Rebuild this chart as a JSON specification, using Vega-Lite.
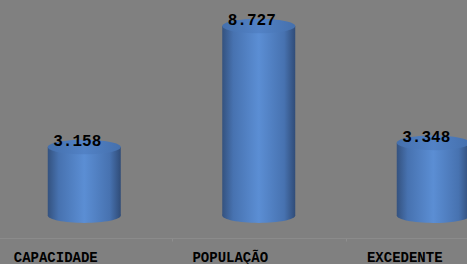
{
  "$schema": "https://vega.github.io/schema/vega-lite/v6.json",
  "width": 467,
  "height": 238,
  "autosize": {"type": "none"},
  "padding": {"left": 0, "top": 0, "right": 0, "bottom": 26},
  "background": "#808080",
  "config": {"view": {"stroke": null}},
  "data": {
    "values": [
      {"cat": "CAPACIDADE", "value": 3.158, "label": "3.158"},
      {"cat": "POPULAÇÃO", "value": 8.727, "label": "8.727"},
      {"cat": "EXCEDENTE", "value": 3.348, "label": "3.348"}
    ]
  },
  "encoding": {
    "x": {
      "field": "cat",
      "type": "nominal",
      "sort": null,
      "scale": {"range": [-3, 520.5], "paddingInner": 0, "paddingOuter": 0},
      "axis": {
        "title": null,
        "orient": "bottom",
        "domain": true,
        "domainColor": "#8b8b8b",
        "domainWidth": 1,
        "ticks": true,
        "tickColor": "#8e8e8e",
        "tickSize": 3,
        "tickBand": "extent",
        "tickOffset": -29,
        "labelOffset": -29,
        "labelAngle": 0,
        "labelFont": "Liberation Mono",
        "labelFontWeight": "bold",
        "labelFontSize": 14,
        "labelColor": "#000000",
        "labelPadding": 20,
        "labelBaseline": "alphabetic",
        "labelOverlap": false,
        "labelFlush": false,
        "grid": false
      }
    }
  },
  "layer": [
    {
      "mark": {
        "type": "bar",
        "size": 73,
        "fill": {
          "gradient": "linear",
          "x1": 0, "y1": 0, "x2": 1, "y2": 0,
          "stops": [
            {"offset": 0, "color": "#34527f"},
            {"offset": 0.15, "color": "#4772b0"},
            {"offset": 0.5, "color": "#5b8ed4"},
            {"offset": 0.85, "color": "#4772b0"},
            {"offset": 1, "color": "#304c78"}
          ]
        }
      },
      "encoding": {
        "y": {
          "field": "value",
          "type": "quantitative",
          "scale": {"domain": [-1.031, 9.922], "nice": false, "zero": false},
          "axis": null
        },
        "y2": {"datum": 0}
      }
    },
    {
      "mark": {
        "type": "point",
        "shape": "M-1,0A1,0.2,0,1,0,1,0A1,0.2,0,1,0,-1,0Z",
        "size": 5329,
        "filled": true,
        "opacity": 1,
        "strokeWidth": 0,
        "fill": {
          "gradient": "linear",
          "x1": 0, "y1": 0, "x2": 1, "y2": 0,
          "stops": [
            {"offset": 0, "color": "#34527f"},
            {"offset": 0.15, "color": "#4772b0"},
            {"offset": 0.5, "color": "#5b8ed4"},
            {"offset": 0.85, "color": "#4772b0"},
            {"offset": 1, "color": "#304c78"}
          ]
        }
      },
      "encoding": {
        "y": {"datum": 0, "type": "quantitative"}
      }
    },
    {
      "mark": {
        "type": "point",
        "shape": "M-1,0A1,0.2,0,1,0,1,0A1,0.2,0,1,0,-1,0Z",
        "size": 5329,
        "filled": true,
        "opacity": 1,
        "strokeWidth": 0,
        "fill": {
          "gradient": "linear",
          "x1": 0, "y1": 0, "x2": 1, "y2": 0,
          "stops": [
            {"offset": 0, "color": "#4570ad"},
            {"offset": 0.5, "color": "#5282c6"},
            {"offset": 1, "color": "#4570ad"}
          ]
        }
      },
      "encoding": {
        "y": {"field": "value", "type": "quantitative"}
      }
    },
    {
      "mark": {
        "type": "text",
        "font": "Liberation Mono",
        "fontWeight": "bold",
        "fontSize": 16,
        "color": "#000000",
        "baseline": "alphabetic",
        "dx": -7,
        "dy": -1
      },
      "encoding": {
        "y": {"field": "value", "type": "quantitative"},
        "text": {"field": "label"}
      }
    }
  ]
}
